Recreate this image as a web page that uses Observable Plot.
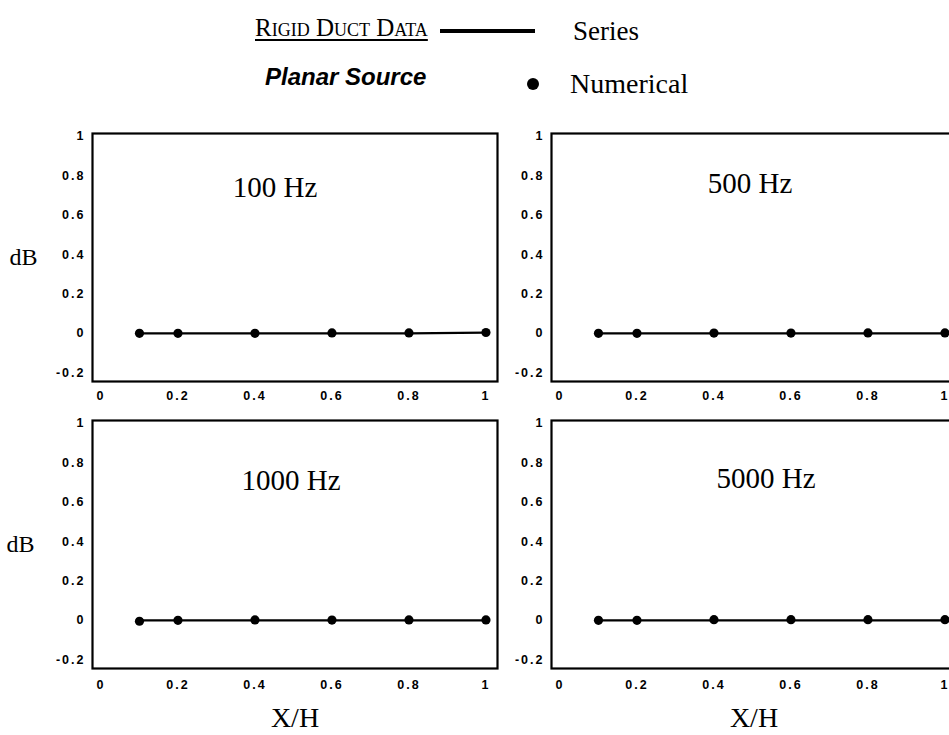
<!DOCTYPE html>
<html><head><meta charset="utf-8">
<script src="https://cdn.jsdelivr.net/npm/d3@7"></script>
<script src="https://cdn.jsdelivr.net/npm/@observablehq/plot@0.6"></script>
<style>
html,body{margin:0;padding:0;background:#fff;}
#fig{position:relative;width:949px;height:735px;overflow:hidden;background:#fff;}
.abs{position:absolute;white-space:nowrap;line-height:1;}
.panel svg{overflow:visible;max-width:none !important;display:block;}
.panel g[aria-label^="x-axis"] text,.panel g[aria-label^="y-axis"] text{letter-spacing:2px;}
.panel g[aria-label="xh-label"] text{letter-spacing:3px;}
</style></head><body><div id="fig"></div>
<script>
// ---- data ----
const xPositions = [0.1, 0.2, 0.4, 0.6, 0.8, 1.0];
const panelLabels = ["100 Hz", "500 Hz", "1000 Hz", "5000 Hz"];
const series100 = [0, 0, 0, 0, 0, 0.003];
const numerical100 = [0, 0, 0, 0.002, 0.002, 0.004];
const series500 = [0, 0, 0, 0, 0, 0];
const numerical500 = [0, 0, 0.001, 0.001, 0.002, 0.002];
const series1000 = [0, 0, 0, 0, 0, 0];
const numerical1000 = [-0.005, 0, 0.002, 0.001, 0.002, 0.002];
const series5000 = [0, 0, 0, 0, 0, 0];
const numerical5000 = [0, 0, 0.003, 0.003, 0.003, 0.003];
const xTicks = [0, 0.2, 0.4, 0.6, 0.8, 1];
const xTickLabels = ["0", "0.2", "0.4", "0.6", "0.8", "1"];
const yTicks = [-0.2, 0, 0.2, 0.4, 0.6, 0.8, 1];
const yTickLabels = ["-0.2", "0", "0.2", "0.4", "0.6", "0.8", "1"];
const xDomain = [-0.022, 1.03];
const yDomain = [-0.245, 1.015];
const axisXLabel = "X/H";
const axisYLabel = "dB";
const legendTitle = "Rigid Duct Data";
const legendSubtitle = "Planar Source";
const legendSeries = "Series";
const legendNumerical = "Numerical";

const fig = document.getElementById("fig");
const W = 92 + 405 + 13;

function panel({label, series, numerical, left, top, marginBottom, xPad, showDB, dbDx, showXH, labDx, labDy}) {
  const rows = xPositions.map((x, i) => ({x, series: series[i], numerical: numerical[i]}));
  const serif = {fontFamily: "Liberation Serif", fontWeight: "normal", fill: "#000"};
  const marks = [
    Plot.line(rows, {x: "x", y: "series", stroke: "#000", strokeWidth: 2.2}),
    Plot.dot(rows, {x: "x", y: "numerical", r: 4.6, fill: "#000", stroke: "none"}),
    Plot.frame({stroke: "#000", strokeWidth: 2.2}),
    Plot.text([label], {frameAnchor: "top", dx: labDx, dy: labDy, lineAnchor: "middle", fontSize: 29, ...serif})
  ];
  if (showDB) marks.push(Plot.text([axisYLabel], {frameAnchor: "left", dx: dbDx, textAnchor: "end",
      lineAnchor: "middle", fontSize: 24, ...serif}));
  if (showXH) marks.push(Plot.text([axisXLabel], {frameAnchor: "bottom", dx: 0, dy: 50, lineAnchor: "middle",
      fontSize: 28, ariaLabel: "xh-label", ...serif}));
  const p = Plot.plot({
    width: W,
    height: 13 + 248 + marginBottom,
    marginLeft: 92, marginRight: 13, marginTop: 13, marginBottom,
    x: {domain: xDomain, ticks: xTicks, tickSize: 0, tickPadding: xPad, label: null,
        tickFormat: d => xTickLabels[xTicks.indexOf(d)]},
    y: {domain: yDomain, ticks: yTicks, tickSize: 0, tickPadding: 7, label: null,
        tickFormat: d => yTickLabels[yTicks.indexOf(d)]},
    style: {background: "transparent", color: "#000", fontFamily: "Liberation Sans, Arial, sans-serif",
            fontSize: "12.5px", fontWeight: "bold"},
    marks
  });
  const d = document.createElement("div");
  d.className = "abs panel";
  d.style.left = left + "px";
  d.style.top = top + "px";
  d.style.width = W + "px";
  d.appendChild(p);
  fig.appendChild(d);
}

panel({label: panelLabels[0], series: series100, numerical: numerical100, left: 0, top: 120,
  marginBottom: 30, xPad: 10, showDB: true, dbDx: -55, showXH: false, labDx: -20, labDy: 54});
panel({label: panelLabels[1], series: series500, numerical: numerical500, left: 459, top: 120,
  marginBottom: 30, xPad: 10, showDB: false, showXH: false, labDx: -4, labDy: 50});
panel({label: panelLabels[2], series: series1000, numerical: numerical1000, left: 0, top: 407,
  marginBottom: 80, xPad: 12, showDB: true, dbDx: -58, showXH: true, labDx: -4, labDy: 60});
panel({label: panelLabels[3], series: series5000, numerical: numerical5000, left: 459, top: 407,
  marginBottom: 80, xPad: 12, showDB: false, showXH: true, labDx: 12, labDy: 58});

// ---- legend (HTML) ----
function txt(s, left, top, css) {
  const e = document.createElement("div");
  e.className = "abs";
  e.textContent = s;
  e.style.left = left + "px"; e.style.top = top + "px";
  Object.assign(e.style, css);
  fig.appendChild(e);
  return e;
}
txt(legendTitle, 255, 15, {fontFamily: '"Liberation Serif",serif', fontSize: "25px", fontVariant: "small-caps",
  textDecoration: "underline", textDecorationThickness: "2px", textUnderlineOffset: "3px"});
txt(legendSeries, 573, 18, {fontFamily: '"Liberation Serif",serif', fontSize: "27px"});
txt(legendSubtitle, 265, 65, {fontFamily: '"Liberation Sans",Arial,sans-serif', fontSize: "24px",
  fontWeight: "bold", fontStyle: "italic"});
txt(legendNumerical, 570, 70, {fontFamily: '"Liberation Serif",serif', fontSize: "28px"});
const ln = document.createElement("div");
ln.className = "abs";
Object.assign(ln.style, {left: "440px", top: "29px", width: "95px", height: "4px", background: "#000"});
fig.appendChild(ln);
const dt = document.createElement("div");
dt.className = "abs";
Object.assign(dt.style, {left: "527px", top: "78px", width: "12px", height: "12px", borderRadius: "50%", background: "#000"});
fig.appendChild(dt);
</script>
</body></html>
